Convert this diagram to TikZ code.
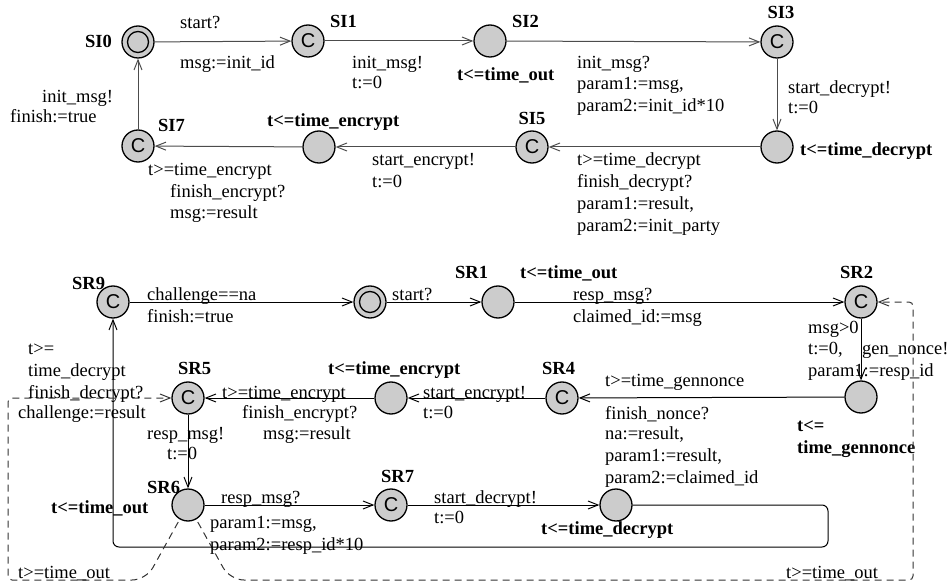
\documentclass[tikz,border=0pt]{standalone}
\usepackage{fontspec}
\setmainfont{Liberation Serif}
\newfontfamily\csans{Liberation Sans}
\usetikzlibrary{arrows.meta}
\begin{document}
\begin{tikzpicture}[x=1pt,y=-1pt,
  font=\fontsize{18.5}{22}\selectfont,
  loc/.style={circle, draw=black, line width=1.3pt, fill=gray!40, minimum size=32pt, inner sep=0pt},
  com/.style={loc, font=\csans\fontsize{20}{20}\selectfont},
  ini/.style={loc, path picture={\draw[line width=1.3pt] (path picture bounding box.center) circle (10.5pt);}},
  lbl/.style={inner sep=0pt, anchor=west, text height=13pt, text depth=1pt},
  nm/.style={lbl, font=\fontsize{18.5}{22}\selectfont\bfseries},
  ml/.style={inner sep=0pt, anchor=north west, align=left},
  mlb/.style={ml, font=\fontsize{18.5}{22}\selectfont\bfseries},
  edge/.style={line width=1pt, draw=black!70, -{Straight Barb[length=10pt,width=8pt]}},
  edgeb/.style={line width=1pt, draw=black, -{Straight Barb[length=10pt,width=8pt]}},
  dedge/.style={line width=1pt, draw=black!80, dash pattern=on 7pt off 5pt, -{Straight Barb[length=10pt,width=8pt]}}
]
\useasboundingbox (0,0) rectangle (948,588);

% ---------- top automaton ----------
\node[ini] (SI0) at (138,42) {};
\node[com] (SI1) at (308,41) {C};
\node[loc] (SI2) at (490,41) {};
\node[com] (SI3) at (777,42) {C};
\node[loc] (SI4) at (777,147) {};
\node[com] (SI5) at (532,147) {C};
\node[loc] (SI6) at (319,147) {};
\node[com] (SI7) at (138,146) {C};

\node[nm, anchor=east] (nSI0) at (112,42) {SI0};
\node[nm] (nSI1) at (330,22) {SI1};
\node[nm] (nSI2) at (512,22) {SI2};
\node[nm, anchor=center] (nSI3) at (781,13) {SI3};
\node[nm, anchor=center] (nSI5) at (532,119) {SI5};
\node[nm] (nSI7) at (158,126) {SI7};
\node[nm] (iSI2) at (457,75) {t<=time\_out};
\node[nm] (iSI6) at (267,121) {t<=time\_encrypt};
\node[nm] (iSI4) at (800,150) {t<=time\_decrypt};

\draw[edge] (SI0) -- (SI1);
\draw[edge] (SI1) -- (SI2);
\draw[edge] (SI2) -- (SI3);
\draw[edge] (SI3) -- (SI4);
\draw[edge] (SI4) -- (SI5);
\draw[edge] (SI5) -- (SI6);
\draw[edge] (SI6) -- (SI7);
\draw[edge] (SI7) -- (SI0);

\node[lbl] (a1) at (180,23) {start?};
\node[lbl] (a2) at (180,63) {msg:=init\_id};
\node[lbl] (b1) at (352,63) {init\_msg!};
\node[lbl] (b2) at (352,83) {t:=0};
\node[lbl] (c1) at (577,63) {init\_msg?};
\node[ml] (c2) at (577,76) {\rule{0pt}{13pt}param1:=msg,\\param2:=init\_id*10};
\node[lbl] (d1) at (788,88) {start\_decrypt!};
\node[lbl] (d2) at (788,108) {t:=0};
\node[lbl] (e1) at (577,160) {t>=time\_decrypt};
\node[lbl] (e2) at (577,182) {finish\_decrypt?};
\node[ml] (e3) at (577,196) {\rule{0pt}{13pt}param1:=result,\\param2:=init\_party};
\node[lbl] (f1) at (372,160) {start\_encrypt!};
\node[lbl] (f2) at (372,182) {t:=0};
\node[lbl] (g1) at (148,170) {t>=time\_encrypt};
\node[lbl] (g2) at (170,192) {finish\_encrypt?};
\node[lbl] (g3) at (170,213) {msg:=result};
\node[lbl] (h1) at (42,97) {init\_msg!};
\node[lbl] (h2) at (10,117) {finish:=true};

% ---------- bottom automaton ----------
\node[com] (SR9) at (113,302) {C};
\node[ini] (SR0) at (370,302) {};
\node[loc] (SR1) at (498,302) {};
\node[com] (SR2) at (861,302) {C};
\node[loc] (SR3) at (861,397) {};
\node[com] (SR4) at (562,398) {C};
\node[loc] (SRE) at (391,398) {};
\node[com] (SR5) at (188,398) {C};
\node[loc] (SR6) at (188,505) {};
\node[com] (SR7) at (391,505) {C};
\node[loc] (SR8) at (616,505) {};

\node[nm] (nSR9) at (72,283) {SR9};
\node[nm] (nSR1) at (455,272) {SR1};
\node[nm] (iSR1) at (520,272) {t<=time\_out};
\node[nm] (nSR2) at (840,272) {SR2};
\node[mlb] (iSR3) at (797,418) {\rule{0pt}{13pt}t<=\\time\_gennonce};
\node[nm] (nSR4) at (542,368) {SR4};
\node[nm] (iSRE) at (328,368) {t<=time\_encrypt};
\node[nm] (nSR5) at (178,368) {SR5};
\node[nm] (nSR6) at (147,487) {SR6};
\node[nm] (iSR6) at (51,507) {t<=time\_out};
\node[nm] (nSR7) at (381,476) {SR7};
\node[nm] (iSR8) at (541,528) {t<=time\_decrypt};

\draw[edgeb] (SR9) -- (SR0);
\draw[edgeb] (SR0) -- (SR1);
\draw[edgeb] (SR1) -- (SR2);
\draw[edgeb] (SR2) -- (SR3);
\draw[edgeb] (SR3) -- (SR4);
\draw[edgeb] (SR4) -- (SRE);
\draw[edgeb] (SRE) -- (SR5);
\draw[edgeb] (SR5) -- (SR6);
\draw[edgeb] (SR6) -- (SR7);
\draw[edgeb] (SR7) -- (SR8);
\draw[edgeb, rounded corners=6pt] (SR8.east) -- (828,505) -- (828,547) -- (113,547) -- (SR9.south);
\draw[dedge, shorten <=3pt] (SR6.240) [rounded corners=14pt] -- (146,580) [rounded corners=4pt] -- (8,580) -- (8,398) -- (SR5.west);
\draw[dedge, shorten <=3pt] (SR6.300) [rounded corners=14pt] -- (230,580) [rounded corners=4pt] -- (913,580) -- (913,302) -- (SR2.east);

\node[lbl] (p1) at (147,295) {challenge==na};
\node[lbl] (p2) at (147,316) {finish:=true};
\node[lbl] (q1) at (392,294) {start?};
\node[lbl] (r1) at (573,295) {resp\_msg?};
\node[lbl] (r2) at (573,316) {claimed\_id:=msg};
\node[lbl] (s1) at (808,327) {msg>0};
\node[lbl] (s2) at (862,348) {gen\_nonce!};
\node[ml] (s3) at (808,341) {\rule{0pt}{13pt}t:=0,\\param1:=resp\_id};
\node[lbl] (u1) at (605,380) {t>=time\_gennonce};
\node[lbl] (u2) at (605,413) {finish\_nonce?};
\node[ml] (u3) at (605,426) {\rule{0pt}{13pt}na:=result,\\param1:=result,\\param2:=claimed\_id};
\node[lbl] (v1) at (423,392) {start\_encrypt!};
\node[lbl] (v2) at (423,412) {t:=0};
\node[lbl] (w1) at (222,392) {t>=time\_encrypt};
\node[lbl] (w2) at (242,412) {finish\_encrypt?};
\node[lbl] (w3) at (263,433) {msg:=result};
\node[lbl] (x1) at (147,433) {resp\_msg!};
\node[lbl] (x2) at (167,453) {t:=0};
\node[lbl] (y1) at (221,497) {resp\_msg?};
\node[ml] (y2) at (210,515) {\rule{0pt}{13pt}param1:=msg,\\param2:=resp\_id*10};
\node[lbl] (z1) at (434,497) {start\_decrypt!};
\node[lbl] (z2) at (434,517) {t:=0};
\node[ml] (k1) at (28,341) {\rule{0pt}{13pt}t>=\\time\_decrypt};
\node[lbl] (k2) at (28,392) {finish\_decrypt?};
\node[lbl] (k3) at (18,412) {challenge:=result};
\node[lbl] (t1) at (18,572) {t>=time\_out};
\node[lbl] (t2) at (786,572) {t>=time\_out};
\end{tikzpicture}
\end{document}
